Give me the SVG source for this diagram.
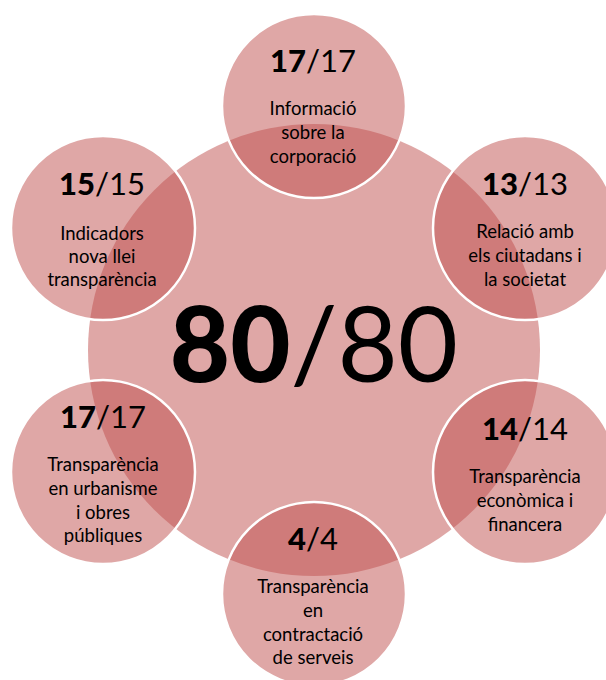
<svg xmlns="http://www.w3.org/2000/svg" width="606" height="680" viewBox="0 0 606 680">
<style>
.big{fill:#C0504D;fill-opacity:0.5;}
.sat{fill:#C0504D;fill-opacity:0.5;stroke:#FFFFFF;stroke-width:2.5;}
text{font-family:Lato,"Liberation Sans",sans-serif;fill:#000;text-anchor:middle;}
.num{font-size:31px;}
.lbl{font-size:18.5px;}
.b{font-weight:900;}
.center{font-size:104px;}
</style>
<rect width="606" height="680" fill="#FFFFFF"/>
<g id="center">
<circle class="big" cx="314" cy="350" r="226"/>
<text class="center" x="314" y="382"><tspan class="b">80</tspan>/80</text>
</g>
<g id="node-top">
<circle class="sat" cx="314" cy="106" r="92"/>
<text class="num" x="313" y="72"><tspan class="b">17</tspan>/17</text>
<text class="lbl" x="313" y="115">Informació</text>
<text class="lbl" x="313" y="139">sobre la</text>
<text class="lbl" x="313" y="163">corporació</text>
</g>
<g id="node-upper-right">
<circle class="sat" cx="525" cy="228" r="92"/>
<text class="num" x="525" y="195"><tspan class="b">13</tspan>/13</text>
<text class="lbl" x="525" y="238">Relació amb</text>
<text class="lbl" x="525" y="262">els ciutadans i</text>
<text class="lbl" x="525" y="286">la societat</text>
</g>
<g id="node-lower-right">
<circle class="sat" cx="525" cy="472" r="92"/>
<text class="num" x="525" y="440"><tspan class="b">14</tspan>/14</text>
<text class="lbl" x="525" y="483">Transparència</text>
<text class="lbl" x="525" y="507">econòmica i</text>
<text class="lbl" x="525" y="531">financera</text>
</g>
<g id="node-bottom">
<circle class="sat" cx="314" cy="594" r="92"/>
<text class="num" x="313" y="550"><tspan class="b">4</tspan>/4</text>
<text class="lbl" x="313" y="593">Transparència</text>
<text class="lbl" x="313" y="617">en</text>
<text class="lbl" x="313" y="641">contractació</text>
<text class="lbl" x="313" y="664">de serveis</text>
</g>
<g id="node-lower-left">
<circle class="sat" cx="103" cy="472" r="92"/>
<text class="num" x="103" y="428"><tspan class="b">17</tspan>/17</text>
<text class="lbl" x="103" y="471">Transparència</text>
<text class="lbl" x="103" y="495">en urbanisme</text>
<text class="lbl" x="103" y="519">i obres</text>
<text class="lbl" x="103" y="542">públiques</text>
</g>
<g id="node-upper-left">
<circle class="sat" cx="103" cy="228" r="92"/>
<text class="num" x="102" y="195"><tspan class="b">15</tspan>/15</text>
<text class="lbl" x="102" y="240">Indicadors</text>
<text class="lbl" x="102" y="263">nova llei</text>
<text class="lbl" x="102" y="286">transparència</text>
</g>
<g id="connectors"></g>
</svg>
